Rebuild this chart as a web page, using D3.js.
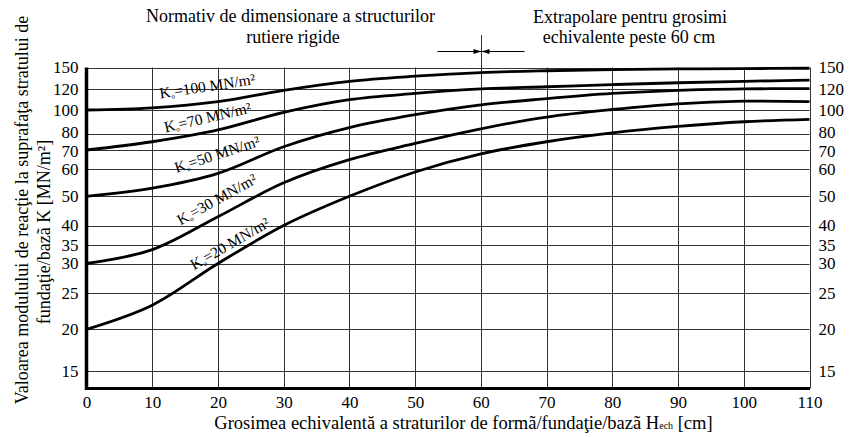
<!DOCTYPE html>
<html><head><meta charset="utf-8">
<script src="https://cdn.jsdelivr.net/npm/d3@7"></script>
<style>
body{margin:0;background:#fff}
svg{display:block}
</style></head>
<body><svg id="c" width="850" height="437"></svg>
<script>
// ---- data ----
const thickness = [0,10,20,30,40,50,60,70,80,90,100,110];
const k100 = [100,102,108,119,131,138,143,145.5,147,148,148.5,149];
const k70  = [70,75,83,98,110,116,120.5,123.5,126.5,129,131,132.5];
const k50  = [50,53,58.5,72,85,96,105,111,116,119,120.5,121];
const k30  = [30,33.7,43,55,65,74,84,94,100.5,106,108.5,108];
const k20  = [20,23.3,30,40,50,59,68,75,80.5,86,90,92];
const curveNames = ["100","70","50","30","20"];
const labelX = [18.5,18.6,20.1,20.2,22.2];
const labelK = [118.1,89.4,65.2,47.4,34.1];
const labelAngle = [-8.5,-13,-18,-29,-30];
const xTicks = [0,10,20,30,40,50,60,70,80,90,100,110];
const yTicks = [15,20,25,30,35,40,50,60,70,80,100,120,150];
const yMin = 12.85;

const FONT = '"Liberation Serif","Times New Roman",Tinos,serif';

// ---- scales ----
const svg = d3.select("#c");
const x = d3.scaleLinear().domain([0,110]).range([86.5,809.5]);
const y = d3.scaleLinear()
  .domain([yMin].concat(yTicks))
  .range([388.5,370.7,329.3,292.7,263.5,244.8,225.5,196.3,169.3,150,133.5,110,89.3,67.5]);
const cx = v => Math.round(x(v)) + 0.5;
const cy = v => Math.round(y(v)) + 0.5;

// ---- grid ----
const grid = svg.append("g").attr("stroke","#333").attr("stroke-width",1);
grid.selectAll("line.h").data(yTicks).join("line").attr("class","h")
  .attr("x1",x(0)).attr("x2",x(110)).attr("y1",cy).attr("y2",cy);
grid.selectAll("line.v").data(xTicks.slice(1)).join("line").attr("class","v")
  .attr("x1",cx).attr("x2",cx)
  .attr("y1",d => d===60 ? 35 : y(150)).attr("y2",y(yMin));

// ---- thick axes ----
svg.append("line").attr("x1",x(0)).attr("x2",x(0)).attr("y1",y(150)).attr("y2",y(yMin)+1.5)
  .attr("stroke","#000").attr("stroke-width",3.5);
svg.append("line").attr("x1",x(0)-1.5).attr("x2",x(110)+0.5).attr("y1",y(yMin)).attr("y2",y(yMin))
  .attr("stroke","#000").attr("stroke-width",3);

// ---- tick labels ----
const aL = svg.append("g").attr("transform",`translate(${x(0)},0)`)
  .call(d3.axisLeft(y).tickValues(yTicks).tickSize(0).tickPadding(8));
const aR = svg.append("g").attr("transform",`translate(${x(110)},0)`)
  .call(d3.axisRight(y).tickValues(yTicks).tickSize(0).tickPadding(9));
const aB = svg.append("g").attr("transform",`translate(0,${y(yMin)})`)
  .call(d3.axisBottom(x).tickValues(xTicks).tickSize(0).tickPadding(7.5));
[aL,aR,aB].forEach(a => {
  a.attr("font-family",FONT).attr("font-size",17);
  a.select(".domain").remove();
  a.selectAll("text").attr("fill","#000");
});
// slight separation of the tightly spaced 80 / 70 labels
[aL,aR].forEach(a => {
  a.selectAll(".tick").filter(d => d===80).select("text").attr("y",-1.3);
  a.selectAll(".tick").filter(d => d===70).select("text").attr("y",1.3);
});

// ---- curves ----
const series = [k100,k70,k50,k30,k20];
const line = d3.line().x((d,i)=>x(thickness[i])).y(d=>y(d)).curve(d3.curveCatmullRom.alpha(0.5));
svg.append("g").selectAll("path").data(series).join("path")
  .attr("d",line).attr("fill","none").attr("stroke","#000").attr("stroke-width",2.8)
  .attr("stroke-linejoin","round");

// ---- curve labels ----
curveNames.forEach((n,i) => {
  const t = svg.append("text")
    .attr("transform",`translate(${x(labelX[i])},${y(labelK[i])}) rotate(${labelAngle[i]})`)
    .attr("text-anchor","middle").attr("font-family",FONT).attr("font-size",15.5);
  t.append("tspan").text("K");
  t.append("tspan").text("o").attr("font-size",7).attr("dy",2);
  t.append("tspan").text("=" + n + " MN/m²").attr("dy",-2);
});

// ---- titles ----
const T = (txt,px,py,size) => svg.append("text").attr("x",px).attr("y",py)
  .attr("text-anchor","middle").attr("font-family",FONT).attr("font-size",size).text(txt);
T("Normativ de dimensionare a structurilor",290.5,21.5,18);
T("rutiere rigide",293,43,18);
T("Extrapolare pentru grosimi",630,22.5,18);
T("echivalente peste 60 cm",629,43,18);

const xt = svg.append("text").attr("x",463.5).attr("y",428.5)
  .attr("text-anchor","middle").attr("font-family",FONT).attr("font-size",18.5);
xt.append("tspan").text("Grosimea echivalentă a straturilor de formã/fundaţie/bazã H");
xt.append("tspan").text("ech").attr("font-size",10);
xt.append("tspan").text(" [cm]");

svg.append("text").attr("transform","translate(27.5,210) rotate(-90)")
  .attr("text-anchor","middle").attr("font-family",FONT).attr("font-size",18)
  .text("Valoarea modulului de reacţie la suprafaţa stratului de");
svg.append("text").attr("transform","translate(49.5,232) rotate(-90)")
  .attr("text-anchor","middle").attr("font-family",FONT).attr("font-size",18)
  .text("fundaţie/bazã K [MN/m²]");

// ---- extrapolation marker ----
const mx = cx(60), my = 51.5;
svg.append("line").attr("x1",mx-44).attr("x2",mx+43).attr("y1",my).attr("y2",my)
  .attr("stroke","#000").attr("stroke-width",1);
svg.append("path").attr("d",`M${mx-8},${my-2.5}L${mx},${my}L${mx-8},${my+2.5}Z`).attr("fill","#000");
svg.append("path").attr("d",`M${mx+8},${my-2.5}L${mx},${my}L${mx+8},${my+2.5}Z`).attr("fill","#000");
</script></body></html>
